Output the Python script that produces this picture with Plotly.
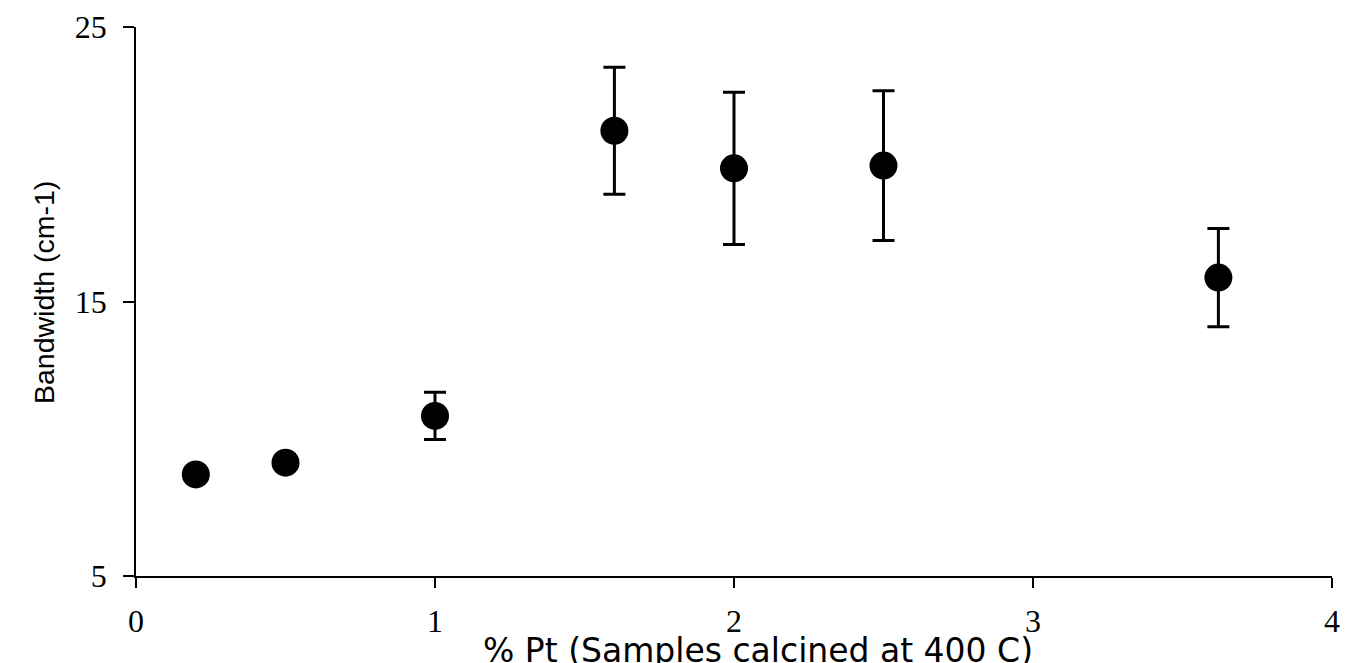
import plotly.graph_objects as go

# Data
pt_percent = [0.2, 0.5, 1.0, 1.6, 2.0, 2.5, 3.62]
bandwidth = [8.70, 9.13, 10.83, 21.22, 19.85, 19.95, 15.87]
bandwidth_err = [0, 0, 0.86, 2.31, 2.77, 2.73, 1.79]

x_ticks = [0, 1, 2, 3, 4]
y_ticks = [5, 15, 25]

fig = go.Figure()
fig.add_trace(go.Scatter(
    x=pt_percent,
    y=bandwidth,
    mode="markers",
    marker=dict(symbol="circle", size=28, color="black", line=dict(width=0)),
    error_y=dict(type="data", array=bandwidth_err, visible=True,
                 color="black", thickness=3, width=11),
    showlegend=False,
))

tick_font = dict(family="Liberation Serif, Times New Roman, serif", size=32, color="black")

fig.update_layout(
    width=1340, height=655,
    margin=dict(l=128, r=16, t=19, b=87),
    paper_bgcolor="white", plot_bgcolor="white",
    xaxis=dict(
        range=[0, 4], tickvals=x_ticks, ticktext=[str(v) for v in x_ticks],
        showgrid=False, zeroline=False, showline=True, linecolor="black", linewidth=1.5,
        ticks="outside", ticklen=10, tickwidth=1.5, tickcolor="black",
        tickfont=tick_font, ticklabelstandoff=6, automargin=False,
    ),
    yaxis=dict(
        range=[5, 25], tickvals=y_ticks, ticktext=[str(v) for v in y_ticks],
        showgrid=False, zeroline=False, showline=True, linecolor="black", linewidth=1.5,
        ticks="outside", ticklen=11, tickwidth=1.5, tickcolor="black",
        tickfont=tick_font, ticklabelstandoff=10, automargin=False,
    ),
    annotations=[
        dict(text="% Pt (Samples calcined at 400 C)", xref="paper", yref="paper",
             x=0.52, y=-0.1348, xanchor="center", yanchor="middle", showarrow=False,
             font=dict(family="DejaVu Sans, sans-serif", size=33, color="black")),
        dict(text="Bandwidth (cm-1)", xref="paper", yref="paper",
             x=-0.077, y=0.517, xanchor="center", yanchor="middle", showarrow=False,
             textangle=-90,
             font=dict(family="Liberation Sans, Arial, sans-serif", size=28.5, color="black")),
    ],
)

fig.write_html("out.html")
